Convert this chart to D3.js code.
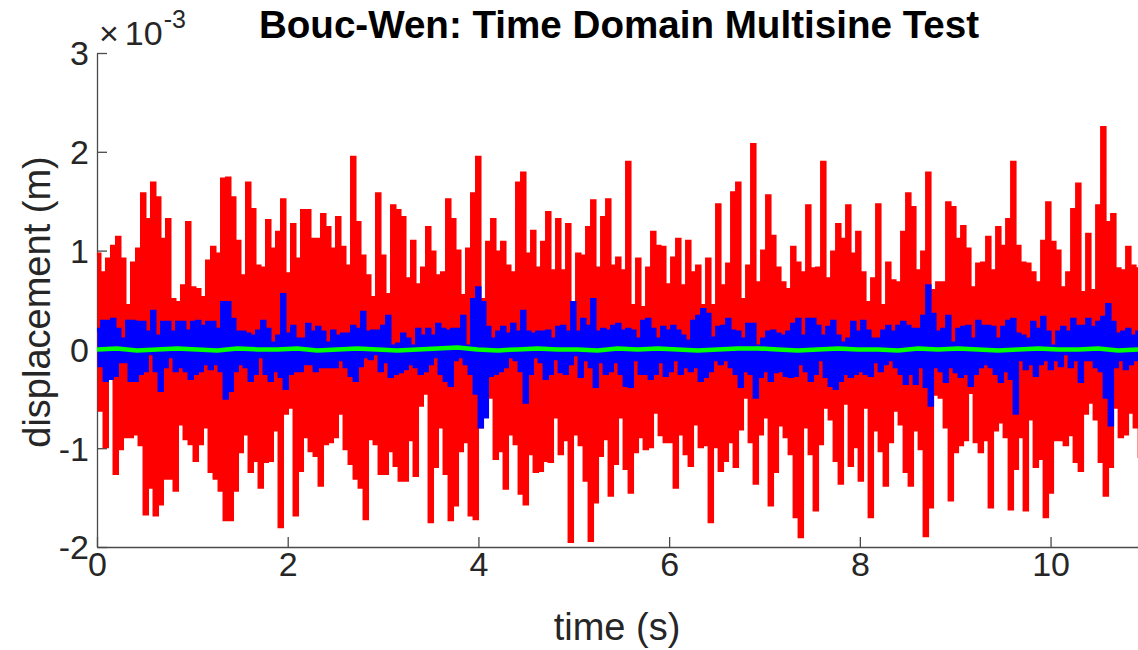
<!DOCTYPE html>
<html>
<head>
<meta charset="utf-8">
<script src="https://cdn.jsdelivr.net/npm/d3@7"></script>
<style>
  html, body { margin: 0; padding: 0; background: #fff; }
  svg { display: block; font-family: "Liberation Sans", Arial, Helvetica, sans-serif; }
</style>
</head>
<body>
<svg id="chart" width="1138" height="650"></svg>
<script>
// Envelope samples of the three displacement responses (units of 1e-3 m).
// Each sample holds the local maximum (Hi) and minimum (Lo) of the fast signal.
const sampleStep = 0.05244;   // s between envelope samples
const greenStep = 0.21;       // s between samples of the smallest response

const redHi = [
  0.96, 0.77, 0.91, 1.04, 1.13, 0.91, 0.44, 0.87, 1.01, 1.57, 1.31, 1.68, 1.53, 1.11, 1.31, 0.50, 0.47, 0.64, 1.28, 0.62, 0.60, 0.52, 0.89, 1.03, 0.96, 1.72,
  1.73, 1.53, 1.09, 0.74, 1.68, 1.41, 0.84, 0.82, 1.30, 1.01, 1.18, 1.51, 0.76, 1.26, 0.91, 1.40, 1.40, 1.11, 1.11, 1.36, 1.23, 1.01, 1.33, 1.03, 0.84, 1.94,
  1.28, 0.94, 0.74, 0.52, 1.57, 0.94, 0.55, 1.45, 1.40, 1.33, 0.71, 1.09, 0.65, 0.82, 1.23, 0.98, 0.74, 0.77, 1.51, 1.31, 0.99, 0.54, 1.01, 1.57, 1.94, 0.50,
  1.08, 1.31, 0.98, 1.08, 0.84, 0.77, 1.68, 1.78, 0.96, 1.19, 0.82, 1.08, 1.38, 0.79, 1.31, 0.79, 1.26, 0.47, 0.96, 0.94, 1.23, 1.50, 0.82, 1.33, 1.51, 0.84,
  0.92, 0.79, 1.89, 0.44, 0.91, 0.42, 0.82, 1.18, 1.04, 1.03, 0.65, 0.92, 1.11, 0.64, 1.09, 0.77, 0.84, 0.44, 0.91, 0.44, 1.46, 0.64, 0.86, 1.58, 1.68, 0.50,
  0.84, 2.07, 0.67, 0.99, 1.55, 1.14, 0.82, 0.67, 0.60, 1.03, 0.87, 0.77, 1.45, 0.81, 0.82, 1.89, 0.71, 0.98, 1.26, 1.11, 1.45, 0.96, 1.18, 0.77, 0.47, 0.71,
  1.46, 0.44, 0.87, 0.69, 0.67, 1.18, 1.57, 1.43, 0.79, 0.98, 1.78, 0.59, 0.67, 0.67, 1.48, 1.43, 1.11, 1.24, 1.01, 0.62, 0.86, 0.87, 1.13, 0.79, 1.23, 1.04,
  1.31, 1.89, 1.04, 0.87, 0.86, 0.77, 0.67, 1.09, 1.48, 1.08, 0.99, 0.62, 0.77, 1.41, 1.67, 0.57, 1.16, 0.59, 1.45, 2.24, 1.28, 1.36, 0.81, 0.79, 1.03, 0.84, 0.81
];
const redLo = [
  -0.61, -0.98, -0.24, -1.25, -1.00, -0.88, -0.88, -0.85, -0.96, -1.66, -1.39, -1.67, -1.56, -1.30, -1.30, -1.42, -0.75, -0.90, -0.95, -1.12, -0.95, -0.78, -1.23, -1.30, -1.42, -1.72,
  -1.72, -1.42, -1.03, -0.85, -1.23, -1.12, -1.39, -1.13, -1.12, -0.81, -1.79, -0.64, -0.58, -1.67, -1.22, -0.88, -1.02, -1.07, -1.37, -0.95, -0.93, -0.88, -0.64, -1.00, -1.15, -1.30,
  -1.39, -1.71, -0.90, -0.95, -1.25, -1.25, -1.02, -1.17, -1.32, -1.32, -0.91, -1.27, -0.56, -0.44, -1.74, -1.18, -0.78, -1.25, -1.72, -1.57, -1.02, -0.93, -1.67, -1.71, -0.78, -0.66,
  -0.48, -1.10, -1.02, -1.40, -0.85, -0.95, -1.45, -1.56, -1.05, -1.23, -1.22, -1.12, -1.13, -0.68, -1.05, -0.91, -1.94, -0.85, -0.96, -1.32, -1.93, -1.54, -1.07, -0.90, -1.47, -1.15,
  -0.68, -1.20, -1.44, -1.03, -0.88, -1.00, -0.98, -0.63, -0.86, -0.93, -0.93, -1.39, -0.85, -1.05, -1.17, -0.75, -0.98, -0.96, -1.74, -0.98, -1.22, -1.12, -0.93, -1.18, -0.80, -0.48,
  -0.93, -1.35, -0.85, -0.68, -1.57, -1.23, -0.76, -0.88, -1.05, -1.69, -1.89, -0.78, -1.05, -1.62, -0.95, -0.58, -0.70, -1.12, -1.35, -0.54, -1.17, -0.98, -1.32, -0.58, -1.69, -0.81,
  -1.02, -1.37, -0.93, -0.61, -0.75, -1.23, -1.37, -0.81, -1.00, -1.88, -1.59, -0.45, -0.48, -0.78, -1.52, -1.03, -0.96, -0.91, -0.43, -0.93, -1.03, -0.91, -1.59, -0.81, -0.73, -0.88,
  -1.61, -1.20, -0.88, -1.62, -0.70, -1.18, -1.10, -1.69, -1.44, -0.91, -0.91, -0.96, -0.86, -1.13, -1.22, -0.64, -0.53, -0.70, -1.13, -1.47, -1.18, -0.58, -0.88, -0.85, -0.63, -0.78, -1.10
];

const blueHi = [
  0.20, 0.28, 0.28, 0.30, 0.20, 0.10, 0.28, 0.28, 0.27, 0.27, 0.17, 0.38, 0.13, 0.27, 0.27, 0.17, 0.27, 0.27, 0.18, 0.27, 0.28, 0.23, 0.27, 0.27, 0.20, 0.47,
  0.47, 0.30, 0.17, 0.17, 0.15, 0.13, 0.18, 0.28, 0.20, 0.06, 0.13, 0.55, 0.15, 0.23, 0.10, 0.10, 0.25, 0.17, 0.22, 0.17, 0.06, 0.18, 0.13, 0.15, 0.15, 0.23,
  0.20, 0.37, 0.17, 0.18, 0.18, 0.23, 0.33, 0.03, 0.05, 0.15, 0.10, 0.03, 0.20, 0.13, 0.20, 0.13, 0.25, 0.20, 0.18, 0.20, 0.20, 0.33, 0.03, 0.50, 0.62, 0.47,
  0.22, 0.10, 0.17, 0.22, 0.15, 0.25, 0.17, 0.38, 0.17, 0.15, 0.17, 0.17, 0.18, 0.10, 0.22, 0.23, 0.17, 0.47, 0.17, 0.30, 0.23, 0.50, 0.17, 0.20, 0.18, 0.23,
  0.25, 0.18, 0.20, 0.18, 0.10, 0.28, 0.30, 0.20, 0.10, 0.22, 0.18, 0.23, 0.18, 0.13, 0.08, 0.28, 0.33, 0.40, 0.35, 0.11, 0.22, 0.23, 0.30, 0.18, 0.17, 0.10,
  0.25, 0.25, 0.03, 0.10, 0.17, 0.18, 0.15, 0.13, 0.17, 0.25, 0.30, 0.13, 0.30, 0.30, 0.23, 0.13, 0.22, 0.28, 0.13, 0.06, 0.10, 0.27, 0.17, 0.28, 0.18, 0.10,
  0.10, 0.18, 0.23, 0.17, 0.23, 0.27, 0.23, 0.20, 0.20, 0.33, 0.64, 0.35, 0.17, 0.20, 0.33, 0.06, 0.20, 0.22, 0.23, 0.10, 0.28, 0.23, 0.23, 0.22, 0.10, 0.22,
  0.28, 0.30, 0.15, 0.13, 0.10, 0.27, 0.20, 0.32, 0.17, 0.03, 0.17, 0.22, 0.17, 0.30, 0.23, 0.23, 0.30, 0.22, 0.27, 0.32, 0.45, 0.27, 0.15, 0.17, 0.20, 0.13, 0.17
];
const blueLo = [
  -0.16, -0.31, -0.29, -0.26, -0.12, -0.12, -0.31, -0.31, -0.24, -0.21, -0.04, -0.21, -0.41, -0.17, -0.07, -0.21, -0.17, -0.21, -0.29, -0.24, -0.21, -0.14, -0.19, -0.14, -0.21, -0.49,
  -0.41, -0.21, -0.14, -0.17, -0.31, -0.24, -0.07, -0.24, -0.31, -0.21, -0.27, -0.39, -0.24, -0.21, -0.21, -0.14, -0.14, -0.21, -0.17, -0.17, -0.17, -0.17, -0.10, -0.17, -0.26, -0.31,
  -0.16, -0.07, -0.09, -0.04, -0.21, -0.12, -0.27, -0.24, -0.22, -0.19, -0.14, -0.17, -0.24, -0.21, -0.14, -0.07, -0.24, -0.31, -0.36, -0.10, -0.07, -0.14, -0.24, -0.44, -0.78, -0.68,
  -0.26, -0.24, -0.21, -0.17, -0.07, -0.10, -0.21, -0.53, -0.24, -0.07, -0.12, -0.29, -0.24, -0.09, -0.22, -0.24, -0.14, -0.05, -0.27, -0.10, -0.17, -0.37, -0.12, -0.24, -0.21, -0.12,
  -0.24, -0.36, -0.37, -0.10, -0.24, -0.24, -0.29, -0.24, -0.12, -0.26, -0.21, -0.10, -0.24, -0.17, -0.21, -0.17, -0.31, -0.27, -0.21, -0.10, -0.14, -0.10, -0.17, -0.24, -0.37, -0.21,
  -0.24, -0.48, -0.27, -0.21, -0.31, -0.22, -0.21, -0.26, -0.27, -0.26, -0.14, -0.21, -0.31, -0.24, -0.10, -0.27, -0.36, -0.39, -0.31, -0.24, -0.27, -0.24, -0.21, -0.24, -0.26, -0.12,
  -0.21, -0.14, -0.10, -0.17, -0.24, -0.34, -0.24, -0.34, -0.17, -0.37, -0.56, -0.17, -0.21, -0.32, -0.17, -0.22, -0.27, -0.24, -0.36, -0.24, -0.17, -0.14, -0.17, -0.24, -0.32, -0.21,
  -0.29, -0.64, -0.10, -0.19, -0.14, -0.26, -0.14, -0.10, -0.19, -0.10, -0.16, -0.04, -0.17, -0.10, -0.32, -0.10, -0.10, -0.17, -0.21, -0.48, -0.76, -0.17, -0.10, -0.19, -0.14, -0.10, -0.10
];

const green = [
  0.00, 0.01, -0.01, 0.00, 0.01, 0.00, -0.01, 0.01, 0.00, 0.00, 0.01, -0.01, 0.00, 0.01, 0.00, -0.01, 0.00, 0.01, 0.02, 0.00,
  -0.01, 0.00, 0.01, 0.00, 0.00, -0.01, 0.01, 0.00, 0.01, 0.00, -0.01, 0.00, 0.01, 0.01, 0.00, -0.01, 0.00, 0.01, 0.00, 0.00,
  -0.01, 0.01, 0.00, 0.01, 0.00, -0.01, 0.00, 0.01, 0.00, 0.00, 0.01, -0.01, 0.00
];

const xTicks = [0, 2, 4, 6, 8, 10];
const yTicks = [-2, -1, 0, 1, 2, 3];
const titleText = "Bouc-Wen: Time Domain Multisine Test";
const xLabel = "time (s)";
const yLabel = "displacement (m)";

// ---- layout ----
const svg = d3.select("#chart");
const axisColor = "#4a4a4a";
const textColor = "#262626";
const tickFont = 34;

const x = d3.scaleLinear().domain([0, 10.917]).range([97, 1138]);
const y = d3.scaleLinear().domain([-2, 3]).range([547, 53]);

// ---- axes (drawn under the data) ----
const xAxis = d3.axisBottom(x).tickValues(xTicks).tickFormat(d => String(d))
  .tickSizeInner(-10).tickSizeOuter(0).tickPadding(10);
const yAxis = d3.axisLeft(y).tickValues(yTicks).tickFormat(d => String(d))
  .tickSizeInner(-10).tickSizeOuter(0).tickPadding(8);

const gx = svg.append("g").attr("transform", `translate(0,${y(-2)})`).call(xAxis);
const gy = svg.append("g").attr("transform", `translate(${x(0)},0)`).call(yAxis);
[gx, gy].forEach(g => {
  g.select(".domain").attr("stroke", axisColor).attr("stroke-width", 1.3);
  g.selectAll(".tick line").attr("stroke", axisColor).attr("stroke-width", 1.3);
  g.selectAll(".tick text").attr("fill", textColor)
    .style("font-size", tickFont + "px")
    .style("font-family", "'Liberation Sans', Arial, Helvetica, sans-serif");
});
gx.selectAll(".tick text").attr("dy", "0.55em");
gy.selectAll(".tick text").attr("dy", "0.35em");

// ---- data ----
// alternate each sample's maximum and minimum; step segments give the
// flat-topped look of the densely sampled signal
function zigzag(hi, lo) {
  const n = Math.min(hi.length, lo.length);
  const pts = [];
  for (let i = 0; i < n; i++) {
    const t = i * sampleStep;
    pts.push([t, hi[i]]);
    pts.push([t + sampleStep / 2, lo[i]]);
  }
  return pts;
}
const stepLine = d3.line().x(d => x(d[0])).y(d => y(d[1])).curve(d3.curveStepAfter);
const line = d3.line().x(d => x(d[0])).y(d => y(d[1]));

const dataG = svg.append("g");
dataG.append("path").datum(zigzag(redHi, redLo))
  .attr("d", stepLine).attr("fill", "none").attr("stroke", "#ff0000")
  .attr("stroke-width", 4).attr("stroke-linejoin", "miter");
dataG.append("path").datum(zigzag(blueHi, blueLo))
  .attr("d", stepLine).attr("fill", "none").attr("stroke", "#0000ff")
  .attr("stroke-width", 4).attr("stroke-linejoin", "miter");
dataG.append("path").datum(green.map((v, i) => [Math.min(i * greenStep, 10.917), v]))
  .attr("d", line).attr("fill", "none").attr("stroke", "#00ff00")
  .attr("stroke-width", 4.5).attr("stroke-linejoin", "round");

// ---- texts ----
svg.append("text")
  .attr("x", 619).attr("y", 38)
  .attr("text-anchor", "middle")
  .style("font-size", "38.6px").style("font-weight", "bold")
  .attr("fill", "#000")
  .text(titleText);

svg.append("text")
  .attr("x", 617).attr("y", 640)
  .attr("text-anchor", "middle")
  .style("font-size", "38px")
  .attr("fill", textColor)
  .text(xLabel);

svg.append("text")
  .attr("transform", "translate(50,302) rotate(-90)")
  .attr("text-anchor", "middle")
  .style("font-size", "38px")
  .attr("fill", textColor)
  .text(yLabel);

// exponent marker of the y axis
const expo = svg.append("text")
  .attr("x", 99).attr("y", 45)
  .attr("fill", textColor)
  .style("font-size", "34px");
expo.append("tspan").text("\u00d7");
expo.append("tspan").attr("dx", 6).text("10");
expo.append("tspan").attr("dy", -17).attr("dx", 1).style("font-size", "25px").text("-3");
</script>
</body>
</html>
